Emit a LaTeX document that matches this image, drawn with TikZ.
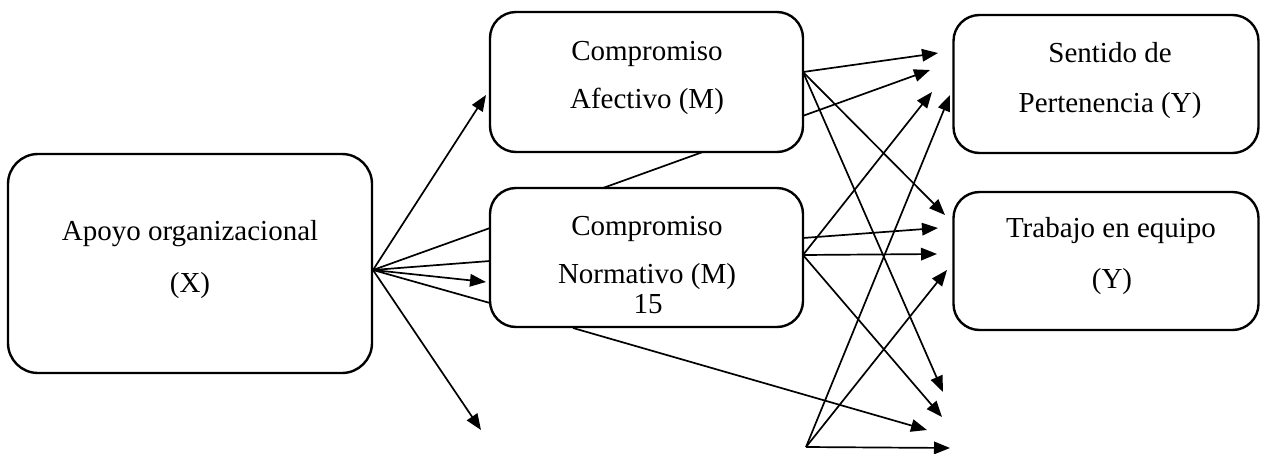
\documentclass[tikz,border=0pt]{standalone}
\usepackage{fontspec}
\setmainfont{Liberation Serif}
\usetikzlibrary{arrows.meta,backgrounds}
\begin{document}
\begin{tikzpicture}[x=1pt,y=-1pt,
  box/.style={draw,line width=2.4pt,fill=white,rounded corners=26pt,inner sep=0pt},
  lbl/.style={anchor=base,inner sep=0pt,font=\fontsize{29}{34}\selectfont},
  con/.style={line width=1.7pt},
  arr/.style={con,-{Triangle[length=16pt,width=12.5pt]}}]
\useasboundingbox (0,0) rectangle (1262,453);
% boxes
\node[box,minimum width=364pt,minimum height=219pt,rounded corners=30pt] (X) at (190,263.5) {};
\node[box,minimum width=313pt,minimum height=140pt] (A) at (646.5,82) {};
\node[box,minimum width=313pt,minimum height=139pt] (N) at (646.5,257.5) {};
\node[box,minimum width=305pt,minimum height=138pt] (S) at (1106,84) {};
\node[box,minimum width=305pt,minimum height=138pt] (T) at (1106,261) {};
% texts
\node[lbl] (x1) at (190,240) {Apoyo organizacional};
\node[lbl] (x2) at (190,292) {(X)};
\node[lbl] (a1) at (647,60) {Compromiso};
\node[lbl] (a2) at (647,108) {Afectivo (M)};
\node[lbl] (n1) at (647,235) {Compromiso};
\node[lbl] (n2) at (647,283) {Normativo (M)};
\node[lbl] (n3) at (648,313) {15};
\node[lbl] (s1) at (1110,62) {Sentido de};
\node[lbl] (s2) at (1110,112) {Pertenencia (Y)};
\node[lbl] (t1) at (1111,237) {Trabajo en equipo};
\node[lbl] (t2) at (1112,288) {(Y)};
% connector points
\coordinate (xo) at (373,270);
\coordinate (ao) at (803,72);
\coordinate (no1) at (803,238);
\coordinate (no2) at (803,255);
\coordinate (ntop) at (603,188);
\coordinate (nbot) at (573,328);
\coordinate (bo) at (806,447);
\coordinate (e1) at (486,95);
\coordinate (e2) at (490,228);
\coordinate (e3) at (490,261);
\coordinate (e4) at (486,282);
\coordinate (e5) at (490,303);
\coordinate (e6) at (481,430);
\coordinate (e7) at (930,70);
\coordinate (e8) at (927,430);
\coordinate (e9) at (938,53);
\coordinate (e10) at (945,215);
\coordinate (e11) at (943,392);
\coordinate (e12) at (938,228);
\coordinate (e13) at (937,254);
\coordinate (e14) at (932,92);
\coordinate (e15) at (942,417);
\coordinate (e16) at (950,448);
\coordinate (e17) at (950,95);
\coordinate (e18) at (947,270);
\begin{scope}[on background layer]
\draw[arr] (xo) -- (e1);
\draw[con] (xo) -- (e2);
\draw[con] (xo) -- (e3);
\draw[arr] (xo) -- (e4);
\draw[con] (xo) -- (e5);
\draw[arr] (xo) -- (e6);
\draw[arr] (ntop) -- (e7);
\draw[arr] (nbot) -- (e8);
\draw[arr] (ao) -- (e9);
\draw[arr] (ao) -- (e10);
\draw[arr] (ao) -- (e11);
\draw[arr] (no1) -- (e12);
\draw[arr] (no2) -- (e13);
\draw[arr] (no2) -- (e14);
\draw[arr] (no2) -- (e15);
\draw[arr] (bo) -- (e16);
\draw[arr] (bo) -- (e17);
\draw[arr] (bo) -- (e18);
\end{scope}
\end{tikzpicture}
\end{document}
